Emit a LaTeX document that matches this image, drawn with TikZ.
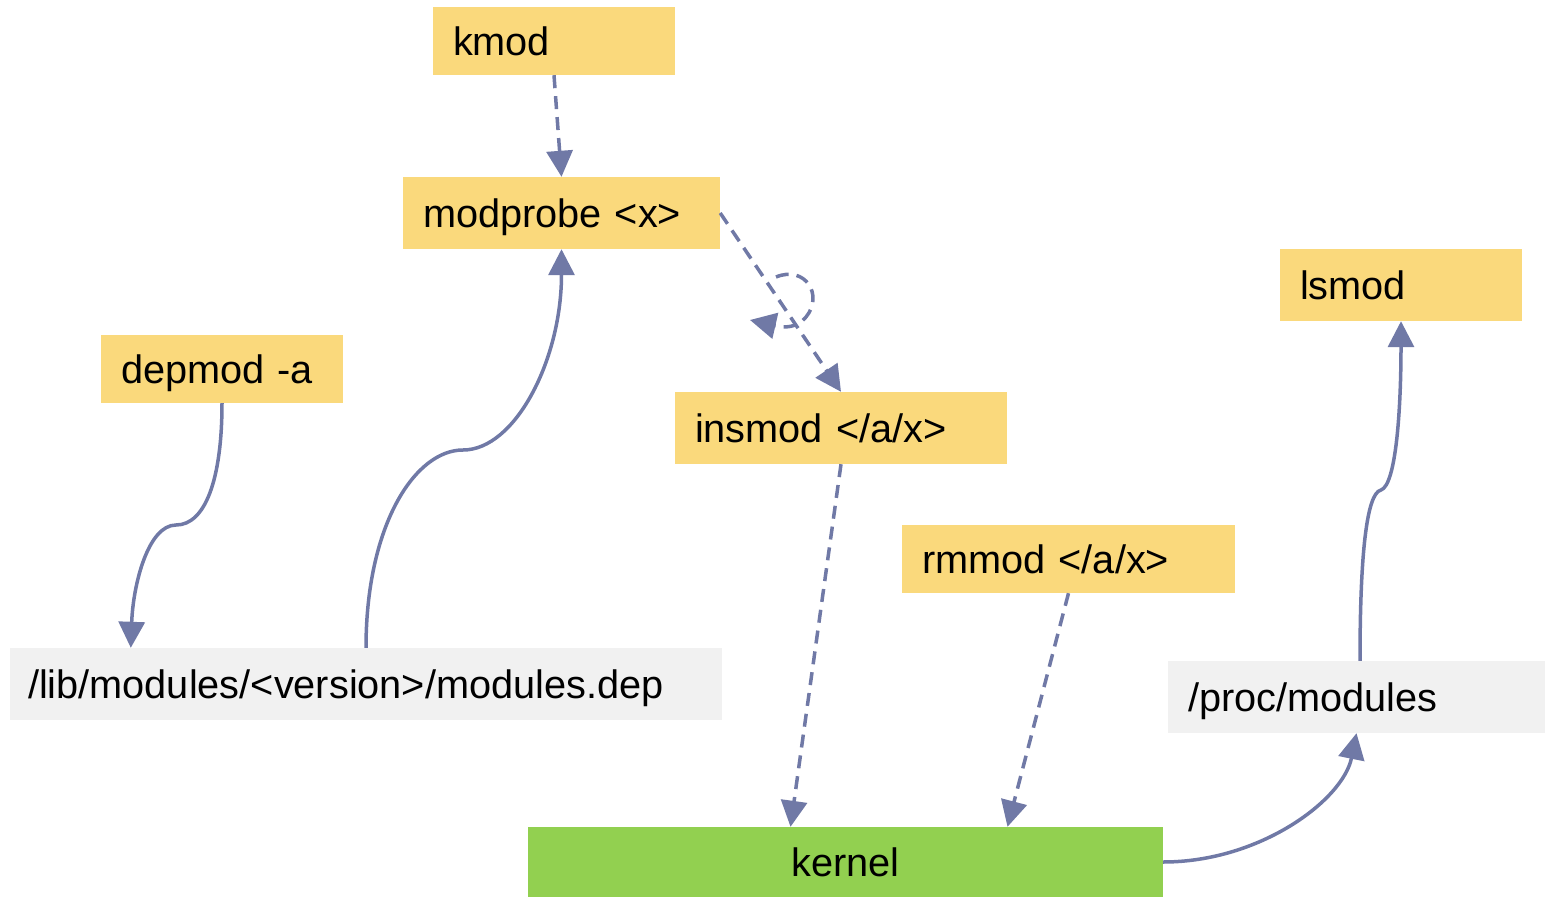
\documentclass[tikz,border=0pt]{standalone}
\usepackage{fontspec}
\setmainfont{Liberation Sans}
\usetikzlibrary{arrows.meta}
\definecolor{ybox}{HTML}{FAD97C}
\definecolor{gbox}{HTML}{F1F1F1}
\definecolor{kbox}{HTML}{92D050}
\definecolor{edgec}{HTML}{7079A6}
\tikzset{
  boxbase/.style={inner xsep=20pt, inner ysep=0pt, align=left, text height=28.4pt, text depth=0pt,
    font=\fontsize{39.7}{48}\selectfont, anchor=center},
  ynode/.style={boxbase, fill=ybox},
  gnode/.style={boxbase, fill=gbox},
  edge/.style={draw=edgec, line width=3.5pt, -{Triangle[length=26pt,width=26pt]}},
  dedge/.style={edge, dash pattern=on 13pt off 8pt},
}
\begin{document}
\begin{tikzpicture}[x=1pt,y=-1pt]
\useasboundingbox (0,0) rectangle (1545,899);
\node[ynode, minimum width=242pt, minimum height=68pt, text width=202pt] (kmod) at (554,41) {kmod};
\node[ynode, minimum width=317pt, minimum height=72pt, text width=277pt] (modprobe) at (561.5,213) {modprobe <x>};
\node[ynode, minimum width=242pt, minimum height=68pt, text width=202pt] (depmod) at (222,369) {depmod -a};
\node[ynode, minimum width=242pt, minimum height=72pt, text width=202pt] (lsmod) at (1401,285) {lsmod};
\node[ynode, minimum width=332pt, minimum height=72pt, text width=292pt] (insmod) at (841,428) {insmod </a/x>};
\node[ynode, minimum width=333pt, minimum height=68pt, text width=293pt] (rmmod) at (1068.5,559) {rmmod </a/x>};
\node[gnode, minimum width=712pt, minimum height=72pt, inner xsep=18pt, text width=676pt] (lib) at (366,684) {/lib/modules/<version>/modules.dep};
\node[gnode, minimum width=377pt, minimum height=72pt, text width=337pt] (proc) at (1356.5,697) {/proc/modules};
\node[boxbase, fill=kbox, minimum width=635pt, minimum height=70pt, align=center] (kernel) at (845.5,862) {kernel};

% dashed edges
\draw[dedge] (kmod.south) -- (modprobe.north);
\draw[dedge] (modprobe.east) -- (insmod.north);
\coordinate (lpa) at (776,277);
\coordinate (lpb) at (750,320);
\draw[dedge] (lpa) .. controls (805,265) and (824,295) .. (806,317) .. controls (797,328) and (785,328) .. (lpb);
\draw[dedge] (insmod.south) -- ([xshift=-55pt]kernel.north);
\draw[dedge] (rmmod.south) -- ([xshift=162pt]kernel.north);

% solid edges
\coordinate (k1) at (176,525);
\draw[edge] (depmod.south) .. controls (222,480) and (205,525) .. (k1) .. controls (148,525) and (133,585) .. ([xshift=121pt]lib.north west);
\coordinate (k2) at (463,450);
\draw[edge] (lib.north) .. controls (366,525) and (415,450) .. (k2) .. controls (515,450) and (561.5,360) .. (modprobe.south);
\draw[edge] (kernel.east) .. controls (1260,862) and (1343,800) .. (proc.south);
\coordinate (k3) at (1381,490);
\draw[edge] ([xshift=3.5pt]proc.north) .. controls (1360,560) and (1366,493) .. (k3) .. controls (1396,485) and (1401,410) .. (lsmod.south);
\end{tikzpicture}
\end{document}
